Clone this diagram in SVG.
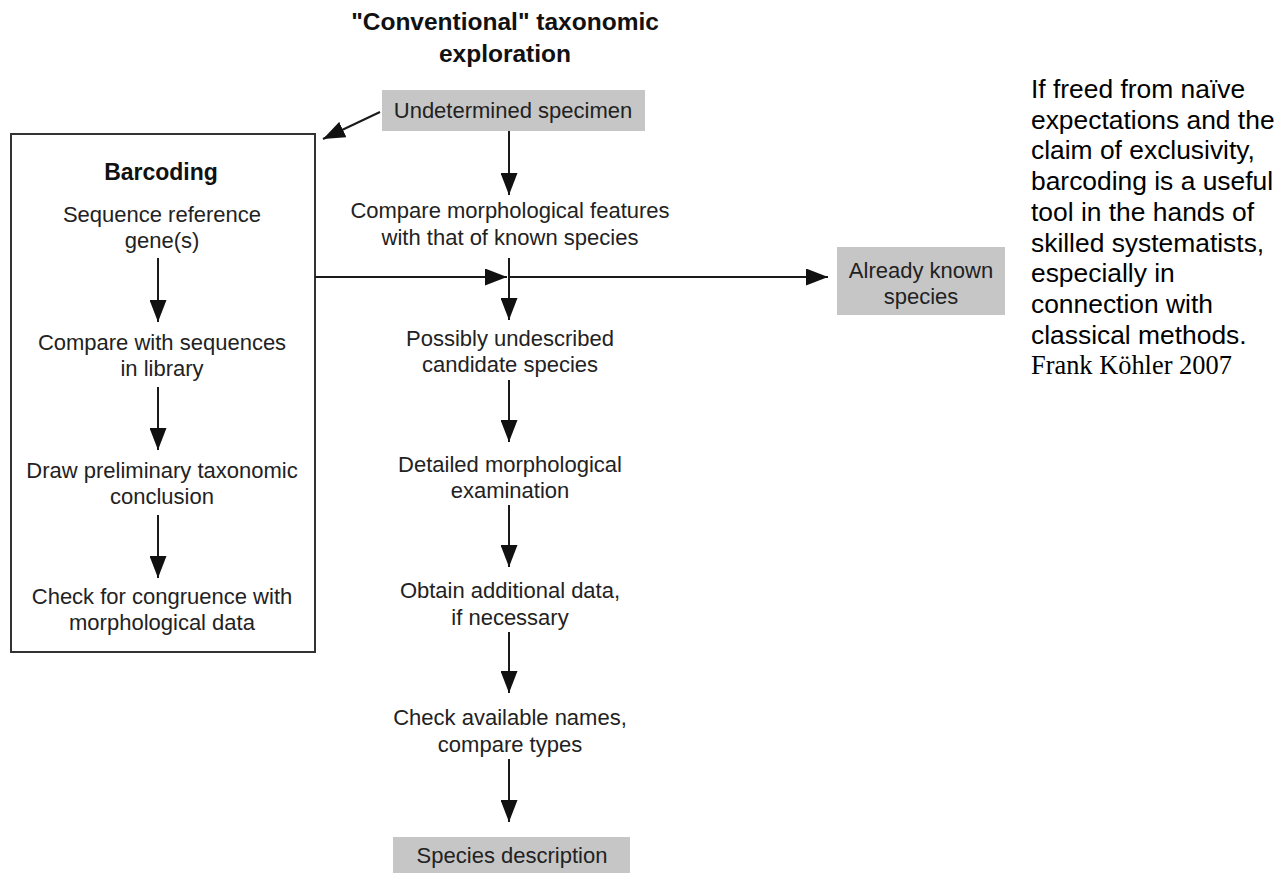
<svg xmlns="http://www.w3.org/2000/svg" width="1283" height="873" viewBox="0 0 1283 873">
<style>
.t{font-family:"Liberation Sans",Arial,sans-serif;font-size:22px;fill:#222;text-anchor:middle}
.h{font-family:"Liberation Sans",Arial,sans-serif;font-size:24.5px;font-weight:bold;fill:#111;text-anchor:middle}
.note{font-family:"Liberation Sans",Arial,sans-serif;font-size:26.4px;fill:#000}
.ser{font-family:"Liberation Serif","Times New Roman",serif;font-size:26.4px;fill:#000}
.gray{fill:#c6c6c6}
.ln{stroke:#1a1a1a;stroke-width:2;fill:none;marker-end:url(#ah)}
</style>
<defs>
<marker id="ah" markerUnits="userSpaceOnUse" markerWidth="22" markerHeight="17" refX="22" refY="8.5" orient="auto">
<path d="M0,0 L22,8.5 L0,17 z" fill="#111"/>
</marker>
</defs>
<rect width="1283" height="873" fill="#fff"/>
<g id="title">
<text class="h" x="505" y="30">"Conventional" taxonomic</text>
<text class="h" x="505" y="62">exploration</text>
</g>
<g id="undetermined">
<rect class="gray" x="382" y="90" width="263" height="41"/>
<text class="t" x="513" y="118">Undetermined specimen</text>
</g>
<g id="barcoding">
<rect x="11" y="134" width="304" height="518" fill="none" stroke="#333" stroke-width="2"/>
<text class="h" x="161" y="180" style="font-size:23px">Barcoding</text>
</g>
<g id="seqref"><text class="t" x="162" y="222">Sequence reference</text><text class="t" x="162" y="248">gene(s)</text></g>
<g id="comparelib"><text class="t" x="162" y="350">Compare with sequences</text><text class="t" x="162" y="376">in library</text></g>
<g id="drawprelim"><text class="t" x="162" y="478">Draw preliminary taxonomic</text><text class="t" x="162" y="504">conclusion</text></g>
<g id="checkcong"><text class="t" x="162" y="604">Check for congruence with</text><text class="t" x="162" y="630">morphological data</text></g>
<g id="comparemorph"><text class="t" x="510" y="218">Compare morphological features</text><text class="t" x="510" y="245">with that of known species</text></g>
<g id="possibly"><text class="t" x="510" y="346">Possibly undescribed</text><text class="t" x="510" y="372">candidate species</text></g>
<g id="detailed"><text class="t" x="510" y="472">Detailed morphological</text><text class="t" x="510" y="498">examination</text></g>
<g id="obtain"><text class="t" x="510" y="598">Obtain additional data,</text><text class="t" x="510" y="625">if necessary</text></g>
<g id="checknames"><text class="t" x="510" y="725">Check available names,</text><text class="t" x="510" y="752">compare types</text></g>
<g id="description">
<rect class="gray" x="393" y="837" width="237" height="40"/>
<text class="t" x="512" y="863">Species description</text>
</g>
<g id="known">
<rect class="gray" x="837" y="247" width="168" height="68"/>
<text class="t" x="921" y="278">Already known</text>
<text class="t" x="921" y="304">species</text>
</g>
<g id="note">
<text class="note" x="1031" y="98">If freed from naïve</text>
<text class="note" x="1031" y="128.7">expectations and the</text>
<text class="note" x="1031" y="159.4">claim of exclusivity,</text>
<text class="note" x="1031" y="190.1">barcoding is a useful</text>
<text class="note" x="1031" y="220.8">tool in the hands of</text>
<text class="note" x="1031" y="251.5">skilled systematists,</text>
<text class="note" x="1031" y="282.2">especially in</text>
<text class="note" x="1031" y="312.9">connection with</text>
<text class="note" x="1031" y="343.6">classical methods.</text>
<text class="ser" x="1031" y="374.3">Frank Köhler 2007</text>
</g>
<g id="connectors">
<path class="ln" d="M380,112 L323,139"/>
<path class="ln" d="M509,131 L509,195"/>
<path class="ln" d="M315,277 L507,277"/>
<path class="ln" d="M509,277 L828,277"/>
<path class="ln" d="M509,258 L509,320"/>
<path class="ln" d="M509,380 L509,442"/>
<path class="ln" d="M509,505 L509,567"/>
<path class="ln" d="M509,632 L509,693"/>
<path class="ln" d="M509,759 L509,822"/>
<path class="ln" d="M158,258 L158,322"/>
<path class="ln" d="M158,387 L158,450"/>
<path class="ln" d="M158,515 L158,578"/>
</g>
</svg>
